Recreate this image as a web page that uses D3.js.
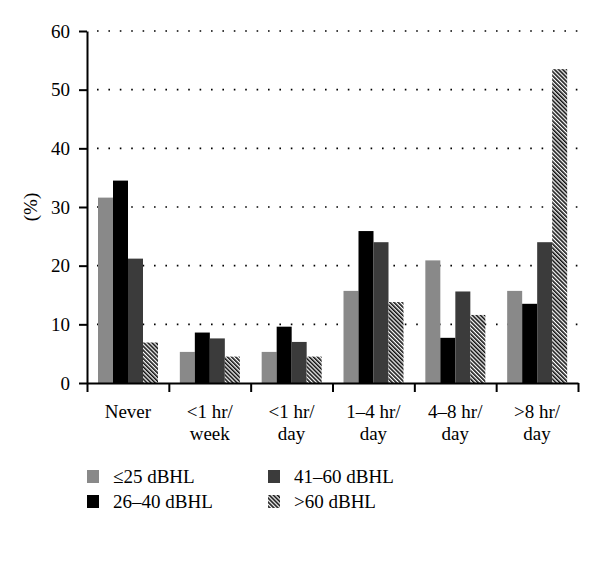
<!DOCTYPE html>
<html>
<head>
<meta charset="utf-8">
<script src="https://cdn.jsdelivr.net/npm/d3@7"></script>
<style>
  body { margin: 0; background: #fff; }
  svg text { font-family: "Liberation Serif", "DejaVu Serif", serif; fill: #000; }
</style>
</head>
<body>
<svg id="chart" width="600" height="587"></svg>
<script>
// data
const categories = ["Never", "<1 hr/week", "<1 hr/day", "1–4 hr/day", "4–8 hr/day", ">8 hr/day"];
const categoryLines = [["Never"], ["<1 hr/", "week"], ["<1 hr/", "day"], ["1–4 hr/", "day"], ["4–8 hr/", "day"], [">8 hr/", "day"]];
const seriesNames = ["≤25 dBHL", "26–40 dBHL", "41–60 dBHL", ">60 dBHL"];
const le25 = [31.6, 5.3, 5.3, 15.7, 20.9, 15.7];
const s26to40 = [34.5, 8.6, 9.6, 25.9, 7.7, 13.5];
const s41to60 = [21.2, 7.6, 7.0, 24.0, 15.6, 24.0];
const gt60 = [6.9, 4.5, 4.5, 13.8, 11.6, 53.5];
const yTicks = [0, 10, 20, 30, 40, 50, 60];

const seriesValues = [le25, s26to40, s41to60, gt60];
const fills = ["#898989", "#000000", "#3b3b3b", "url(#hatch)"];

const svg = d3.select("#chart");

const margin = { left: 87, right: 22, top: 31 };
const plotBottom = 383;
const fontSize = "19px";

// hatch pattern for the >60 series
const defs = svg.append("defs");
const hatch = defs.append("pattern")
    .attr("id", "hatch")
    .attr("patternUnits", "userSpaceOnUse")
    .attr("width", 2.9)
    .attr("height", 2.9)
    .attr("patternTransform", "rotate(-45)");
hatch.append("rect").attr("width", 2.9).attr("height", 2.9).attr("fill", "#fff");
hatch.append("rect").attr("width", 1.6).attr("height", 2.9).attr("fill", "#111");

// scales
const x0 = d3.scaleBand()
    .domain(categories)
    .range([margin.left, 600 - margin.right]);
const x1 = d3.scaleBand()
    .domain(seriesNames)
    .range([11, 71]);
const y = d3.scaleLinear()
    .domain([0, 60])
    .range([plotBottom, margin.top]);

// dotted gridlines
svg.append("g")
    .selectAll("line")
    .data(yTicks.filter(d => d > 0))
    .enter().append("line")
    .attr("x1", margin.left + 10)
    .attr("x2", 600 - margin.right)
    .attr("y1", d => y(d))
    .attr("y2", d => y(d))
    .attr("stroke", "#000")
    .attr("stroke-width", 1.6)
    .attr("stroke-dasharray", "1.6,9.8");

// bars
const groups = svg.append("g")
    .selectAll("g")
    .data(categories)
    .enter().append("g")
    .attr("transform", d => `translate(${x0(d)},0)`);

groups.selectAll("rect")
    .data((c, i) => seriesNames.map((s, j) => ({ s: s, j: j, v: seriesValues[j][i] })))
    .enter().append("rect")
    .attr("x", d => x1(d.s))
    .attr("width", x1.bandwidth())
    .attr("y", d => y(d.v))
    .attr("height", d => y(0) - y(d.v))
    .attr("fill", d => fills[d.j]);

// Y axis
const yAxis = svg.append("g")
    .attr("transform", `translate(${margin.left},0)`)
    .call(d3.axisLeft(y).tickValues(yTicks).tickSize(8).tickSizeOuter(0).tickPadding(9));
yAxis.select(".domain").attr("stroke-width", 2);
yAxis.selectAll(".tick line").attr("stroke-width", 2);
yAxis.selectAll("text")
    .style("font-size", fontSize)
    .style("font-family", '"Liberation Serif", serif');

// X axis with ticks at band edges
const edge = d3.scaleLinear()
    .domain([0, categories.length])
    .range(x0.range());
const xAxis = svg.append("g")
    .attr("transform", `translate(0,${plotBottom})`)
    .call(d3.axisBottom(edge).ticks(categories.length).tickSize(9).tickSizeOuter(0).tickFormat(""));
xAxis.select(".domain").attr("stroke-width", 2);
xAxis.selectAll(".tick line").attr("stroke-width", 2);

// category labels
const labels = svg.append("g")
    .selectAll("text")
    .data(categories)
    .enter().append("text")
    .attr("x", d => x0(d) + x0.bandwidth() / 2)
    .attr("y", 418)
    .attr("text-anchor", "middle")
    .style("font-size", fontSize);
labels.selectAll("tspan")
    .data((d, i) => categoryLines[i])
    .enter().append("tspan")
    .attr("x", function () { return d3.select(this.parentNode).attr("x"); })
    .attr("dy", (d, k) => k === 0 ? 0 : 22)
    .text(d => d);

// y label
svg.append("text")
    .attr("transform", "translate(37,207) rotate(-90)")
    .attr("text-anchor", "middle")
    .style("font-size", fontSize)
    .text("(%)");

// legend
const legendPos = [[87, 470], [87, 495], [268, 470], [268, 495]];
const legend = svg.append("g")
    .selectAll("g")
    .data(seriesNames)
    .enter().append("g")
    .attr("transform", (d, i) => `translate(${legendPos[i][0]},${legendPos[i][1]})`);
legend.append("rect")
    .attr("width", 12)
    .attr("height", 13)
    .attr("fill", (d, i) => fills[i]);
legend.append("text")
    .attr("x", 26)
    .attr("y", 12.5)
    .style("font-size", fontSize)
    .text(d => d);
</script>
</body>
</html>
